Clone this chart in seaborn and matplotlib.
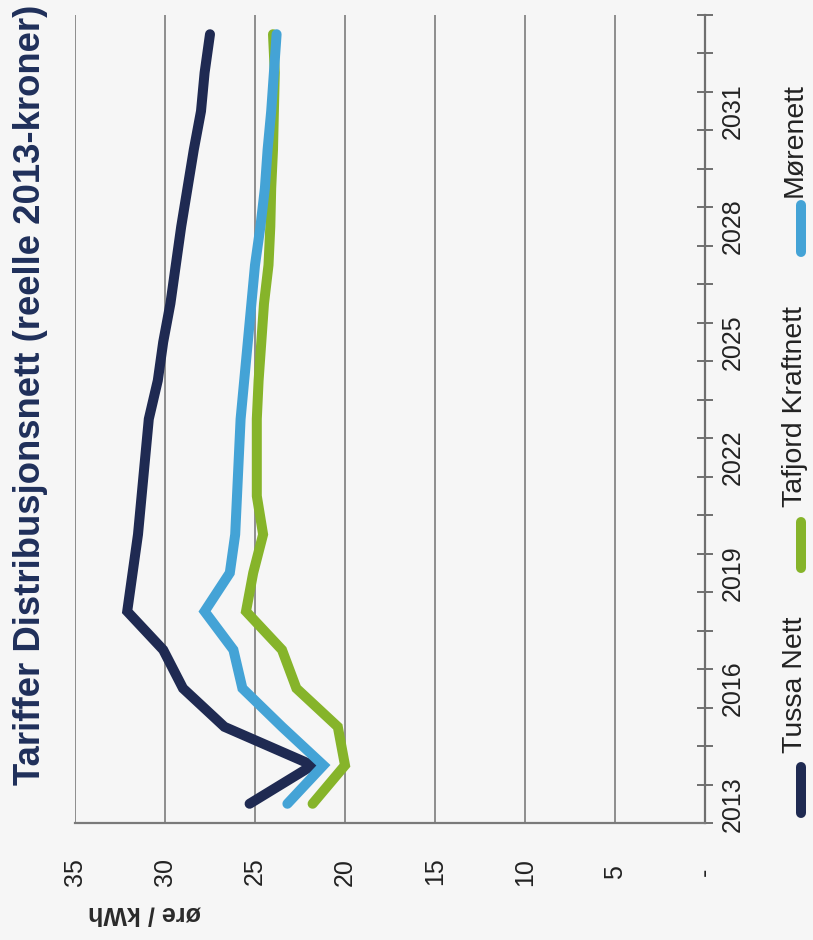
import numpy as np
import pandas as pd
import matplotlib
matplotlib.use("Agg")
import matplotlib.pyplot as plt
from matplotlib import font_manager
from matplotlib.lines import Line2D
from matplotlib.ticker import FixedLocator
import seaborn as sns

# ---------------- data ----------------
years = list(range(2013, 2034))
tussa = [25.3, 21.8, 26.7, 29.0, 30.1, 32.1, 31.8, 31.5, 31.3, 31.1, 30.9,
         30.4, 30.1, 29.7, 29.4, 29.1, 28.75, 28.4, 28.0, 27.8, 27.5]
tafjord = [21.8, 20.0, 20.4, 22.7, 23.5, 25.5, 25.1, 24.55, 24.9, 24.9, 24.9,
           24.8, 24.65, 24.5, 24.25, 24.15, 24.1, 24.0, 23.95, 23.9, 24.0]
morenett = [23.2, 21.2, 23.5, 25.7, 26.2, 27.8, 26.4, 26.1, 26.0, 25.9, 25.8,
            25.6, 25.4, 25.2, 25.0, 24.7, 24.45, 24.3, 24.1, 23.95, 23.8]
series_names = ["Tussa Nett", "Tafjord Kraftnett", "Mørenett"]
value_ticks = [35, 30, 25, 20, 15, 10, 5, 0]
value_labels = ["35", "30", "25", "20", "15", "10", "5", "-"]
year_labels = [2013, 2016, 2019, 2022, 2025, 2028, 2031]
title = "Tariffer Distribusjonsnett (reelle 2013-kroner)"
unit = "øre / kWh"

colors = {"Tussa Nett": "#1f2a52", "Tafjord Kraftnett": "#86b42a", "Mørenett": "#44a3d6"}

df = pd.DataFrame({
    "year": years * 3,
    "value": tussa + tafjord + morenett,
    "series": [series_names[0]] * len(years) + [series_names[1]] * len(years) + [series_names[2]] * len(years),
})

# ---------------- style ----------------
sns.set_style("white")
names = {f.name for f in font_manager.fontManager.ttflist}
plt.rcParams["font.family"] = ["Liberation Sans", "DejaVu Sans"]
title_family = ["Liberation Sans Narrow", "Liberation Sans", "DejaVu Sans"] if "Liberation Sans Narrow" in names else ["Liberation Sans", "DejaVu Sans"]

W, H = 813, 940
bg = "#f6f6f6"
fig = plt.figure(figsize=(W / 100, H / 100), dpi=100, facecolor=bg)
ax = fig.add_axes([75 / W, 1 - 823 / H, 630 / W, 808 / H], facecolor=bg)

for name in series_names:
    sub = df[df["series"] == name]
    sns.lineplot(data=sub, x="value", y="year", orient="y", sort=True, ax=ax,
                 color=colors[name], linewidth=7.2, legend=False,
                 solid_capstyle="round", solid_joinstyle="miter", zorder=3)

ax.set_xlim(35, 0)
ax.set_ylim(2012.5, 2033.5)
ax.set_xlabel("")
ax.set_ylabel("")

# value axis (bottom)
ax.set_xticks(value_ticks)
ax.set_xticklabels(value_labels, rotation=90, fontsize=18, color="#222222")
for lab in ax.get_xticklabels():
    lab.set_va("center")
ax.tick_params(axis="x", direction="out", length=6, width=1.4, color="#7a7a7a", pad=29)
ax.grid(axis="x", color="#8e8e8e", linewidth=1.4)
ax.grid(axis="y", visible=False)

# year axis (right)
ax.yaxis.tick_right()
ax.set_yticks(year_labels)
ax.set_yticklabels([str(y) for y in year_labels], rotation=90, fontsize=18, color="#222222")
for lab in ax.get_yticklabels():
    lab.set_ha("center")
    lab.set_va("center")
ax.yaxis.set_minor_locator(FixedLocator(np.arange(2012.5, 2034.0, 1.0)))
ax.tick_params(axis="y", which="major", length=0, pad=20, right=True, left=False)
ax.tick_params(axis="y", which="minor", direction="inout", length=11, width=1.4,
               color="#6f6f6f", right=True, left=False)

for s in ["top", "left"]:
    ax.spines[s].set_visible(False)
ax.spines["right"].set_color("#6f6f6f")
ax.spines["right"].set_linewidth(1.6)
ax.spines["bottom"].set_color("#7a7a7a")
ax.spines["bottom"].set_linewidth(1.6)

# title and unit label
fig.text(31 / W, 1 - 395 / H, title, rotation=90, ha="center", va="center",
         fontsize=26.3, fontweight="bold", color="#1f2f5a", family=title_family)
fig.text(145 / W, 1 - 914 / H, unit, rotation=180, ha="center", va="center",
         fontsize=18, fontweight="bold", color="#2a2a2a")

# legend (vertical, drawn manually)
leg = [("Tussa Nett", 767, 813, 753), ("Tafjord Kraftnett", 522, 568, 507), ("Mørenett", 205, 252, 197)]
for name, y0, y1, ytxt in leg:
    fig.add_artist(Line2D([801 / W, 801 / W], [1 - y1 / H, 1 - y0 / H], transform=fig.transFigure,
                          color=colors[name], linewidth=7.2, solid_capstyle="round"))
    fig.text(795 / W, 1 - ytxt / H, name, rotation=90, ha="center", va="bottom",
             fontsize=20.5, color="#222222")

fig.savefig("out.png", dpi=100, facecolor=bg)
